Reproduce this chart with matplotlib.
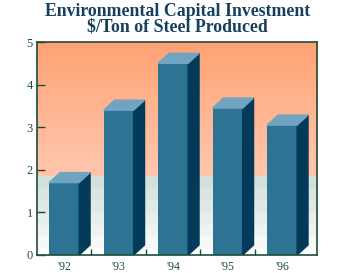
import numpy as np
import matplotlib.pyplot as plt
from matplotlib.patches import Polygon
from matplotlib.colors import LinearSegmentedColormap

years = ["'92", "'93", "'94", "'95", "'96"]
values = [1.7, 3.4, 4.5, 3.45, 3.05]

FRONT = "#2d7393"
SIDE = "#033a5a"
TOP = "#70a4c1"
FRAME = "#1c4d3a"
TITLE = "#17405e"

plt.rcParams['font.family'] = ['Liberation Serif', 'DejaVu Serif']

fig = plt.figure(figsize=(3.55, 2.73), dpi=100)
ax = fig.add_axes([0.104, 0.066, 0.789, 0.78])

xlo, xhi = -0.5, 4.64
ax.set_xlim(xlo, xhi)
ax.set_ylim(0, 5)

# background: salmon gradient above, pale grey-green below
split = 1.86
upper = LinearSegmentedColormap.from_list("up", ["#ffc7ae", "#ffa274"])
lower = LinearSegmentedColormap.from_list("lo", ["#f7f9f9", "#d3dfda"])
g = np.linspace(0, 1, 256).reshape(-1, 1)
ax.imshow(g, cmap=upper, origin="lower", aspect="auto",
          extent=[xlo, xhi, split, 5], zorder=0)
steps = np.linspace(0, 1, 6).reshape(-1, 1)
ax.imshow(steps, cmap=lower, origin="lower", aspect="auto",
          extent=[xlo, xhi, 0.15, split], zorder=0, interpolation="nearest")
ax.axhspan(0, 0.15, color="white", zorder=0.5)

# 3D-style bars
w = 0.55
dx, dy = 0.2, 0.235
x = np.arange(len(years))
ax.bar(x, values, width=w, color=FRONT, zorder=2)
for xi, v in zip(x, values):
    l, r = xi - w / 2, xi + w / 2
    ax.add_patch(Polygon([(r, 0), (r + dx, dy), (r + dx, v + dy), (r, v)],
                         closed=True, color=SIDE, zorder=2))
    ax.add_patch(Polygon([(l, v), (r, v), (r + dx, v + dy), (l + dx, v + dy)],
                         closed=True, color=TOP, zorder=2))

ax.set_xticks(x)
ax.set_xticklabels(years)
ax.set_xticks(x[:-1] + 0.5, minor=True)
ax.tick_params(axis="x", which="major", length=0, pad=4,
               labelsize=8.5, labelcolor="#1e4d3c")
ax.tick_params(axis="x", which="minor", direction="in", length=4,
               width=1, color=FRAME)
ax.set_yticks(range(6))
ax.tick_params(axis="y", direction="in", length=6, width=1, color=FRAME,
               labelsize=9, labelcolor="#1e4d3c", pad=3)
for s in ax.spines.values():
    s.set_color(FRAME)
    s.set_linewidth(1.2)
    s.set_zorder(5)

fig.text(0.5, 0.99, "Environmental Capital Investment\n$/Ton of Steel Produced",
         ha="center", va="top", fontsize=12.8, fontweight="bold",
         color=TITLE, linespacing=0.92)

fig.savefig("out.png", dpi=100)
